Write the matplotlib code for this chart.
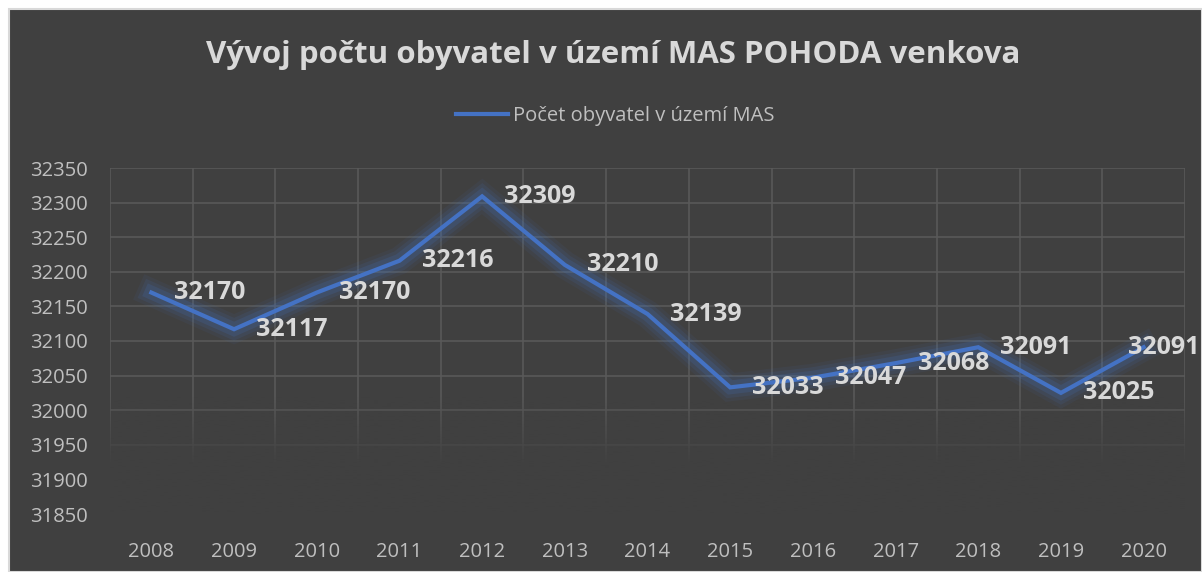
import numpy as np
import matplotlib
matplotlib.use("Agg")
import matplotlib.pyplot as plt
import matplotlib.patheffects as pe
from matplotlib.patches import Rectangle

years = ["2008", "2009", "2010", "2011", "2012", "2013", "2014",
         "2015", "2016", "2017", "2018", "2019", "2020"]
population = [32170, 32117, 32170, 32216, 32309, 32210, 32139,
              32033, 32047, 32068, 32091, 32025, 32091]
y_ticks = list(range(31850, 32351, 50))

title = "Vývoj počtu obyvatel v území MAS POHODA venkova"
series_name = "Počet obyvatel v území MAS"

bg = "#404040"
grid_col = "#595959"
text_col = "#d9d9d9"
tick_col = "#bfbfbf"
line_col = "#4472C4"

plt.rcParams['font.family'] = ['Open Sans', 'DejaVu Sans']

fig = plt.figure(figsize=(12.02, 5.72), dpi=100)
fig.patch.set_facecolor("white")
fig.patches.append(Rectangle((9 / 1202, 0), 1 - 9 / 1202, 1 - 9 / 572,
                             transform=fig.transFigure, facecolor=bg,
                             edgecolor="#d9d9d9", linewidth=1.5, zorder=-10))

ax = fig.add_axes([110 / 1202, 1 - 514 / 572, (1185 - 110) / 1202, (514 - 168) / 572])
ax.set_facecolor(bg)
x = np.arange(len(years))

ax.set_yticks(y_ticks)
ax.set_xticks(x)
ax.set_xticklabels(years)
ax.set_xticks(np.arange(-0.5, len(years)), minor=True)
ax.tick_params(axis="both", which="both", length=0, colors=tick_col, labelsize=14.5)
ax.tick_params(axis="y", pad=16)
ax.tick_params(axis="x", pad=20)
for s in ax.spines.values():
    s.set_visible(False)

ax.grid(axis="y", which="major", color=grid_col, linewidth=1.2)
ax.grid(axis="x", which="minor", color=grid_col, linewidth=1.2)
ax.set_axisbelow(True)

# fade gridlines toward the bottom, like the Excel style
t = np.linspace(0, 1, 200)
rgba = np.zeros((200, 1, 4))
rgba[..., :3] = matplotlib.colors.to_rgb(bg)
rgba[:, 0, 3] = np.clip((1 - t) * 1.7, 0, 1)
ax.imshow(rgba, extent=(-0.5, len(years) - 0.5, y_ticks[0], 32020),
          aspect="auto", zorder=1, origin="lower", interpolation="bilinear")
ax.set_xlim(-0.5, len(years) - 0.5)
ax.set_ylim(y_ticks[0], y_ticks[-1])

glow = [pe.Stroke(linewidth=20, foreground=line_col, alpha=0.07),
        pe.Stroke(linewidth=15, foreground=line_col, alpha=0.11),
        pe.Stroke(linewidth=10, foreground=line_col, alpha=0.17),
        pe.Normal()]
ax.plot(x, population, color=line_col, linewidth=3, zorder=3,
        solid_joinstyle="miter", path_effects=glow, label=series_name)

for i, (xi, v) in enumerate(zip(x, population)):
    dx = 16 if i < len(population) - 1 else -11
    ax.annotate(str(v), (xi, v), xytext=(dx, 0), textcoords="offset points",
                ha="left", va="center", fontsize=18, fontweight="bold",
                color=text_col, zorder=4, annotation_clip=False)

fig.text(0.51, 1 - 55 / 572, title, ha="center", va="center",
         fontsize=22.5, fontweight="bold", color=text_col)

leg = ax.legend(loc="center", bbox_to_anchor=(0.512, 1 - 116 / 572),
                bbox_transform=fig.transFigure, frameon=False,
                fontsize=14.5, labelcolor=tick_col, handlelength=2.6,
                handletextpad=0.25)
for h in leg.get_lines():
    h.set_path_effects([])
    h.set_linewidth(3)

fig.savefig("out.png", dpi=100, facecolor=fig.get_facecolor())
